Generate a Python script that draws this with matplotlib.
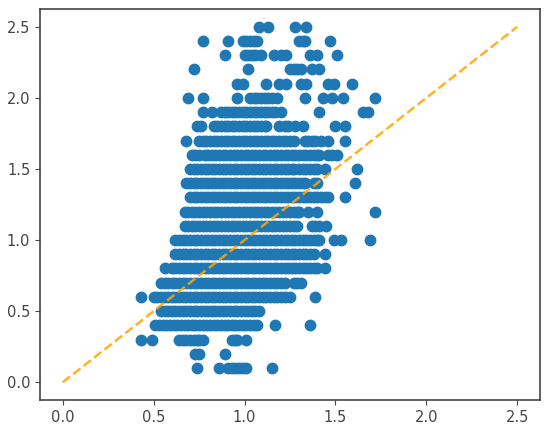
import matplotlib
matplotlib.use('Agg')
import matplotlib.pyplot as plt

# x values, one list for each y level
row_25 = [1.08, 1.13, 1.28, 1.34]
row_24 = [0.77, 0.91, 0.99, 1.01, 1.03, 1.05, 1.07, 1.30, 1.32, 1.33, 1.47]
row_23 = [0.89, 1.00, 1.02, 1.04, 1.06, 1.09, 1.16, 1.20, 1.23, 1.36, 1.40, 1.51]
row_22 = [0.72, 1.02, 1.25, 1.27, 1.29, 1.31, 1.37, 1.41]
row_21 = [0.96, 0.99, 1.12, 1.19, 1.23, 1.31, 1.34, 1.46, 1.49, 1.59]
row_20 = [0.69, 0.77, 0.96, 1.03, 1.05, 1.07, 1.09, 1.11, 1.13, 1.15, 1.18, 1.33, 1.43, 1.48, 1.54, 1.72]
row_19 = [0.77, 0.82, 0.87, 0.89, 0.91, 0.93, 0.95, 0.97, 0.99, 1.01, 1.03, 1.05, 1.07, 1.09,
          1.11, 1.13, 1.15, 1.17, 1.20, 1.41, 1.65, 1.68]
row_18 = [0.74, 0.76, 0.83, 0.85, 0.87, 0.89, 0.91, 0.93, 0.95, 0.97, 0.99, 1.01, 1.03, 1.05,
          1.07, 1.09, 1.11, 1.12, 1.19, 1.22, 1.24, 1.28, 1.32, 1.50, 1.55]
row_17 = [0.68, 0.75, 0.77, 0.79, 0.81, 0.83, 0.85, 0.87, 0.89, 0.91, 0.93, 0.95, 0.97, 0.99,
          1.01, 1.03, 1.05, 1.07, 1.09, 1.11, 1.13, 1.15, 1.17, 1.19, 1.21, 1.23, 1.25, 1.27,
          1.33, 1.35, 1.37, 1.39, 1.42, 1.46, 1.55]
row_16 = [0.71, 0.73, 0.75, 0.78, 0.80, 0.82, 0.84, 0.86, 0.88, 0.90, 0.92, 0.94, 0.96, 0.98,
          1.00, 1.02, 1.04, 1.06, 1.08, 1.10, 1.12, 1.14, 1.16, 1.18, 1.20, 1.22, 1.24, 1.26,
          1.28, 1.30, 1.32, 1.34, 1.36, 1.38, 1.40, 1.41, 1.46, 1.48, 1.51]
row_15 = [0.70, 0.72, 0.74, 0.76, 0.78, 0.80, 0.82, 0.84, 0.86, 0.88, 0.90, 0.92, 0.94, 0.96,
          0.98, 1.00, 1.02, 1.04, 1.06, 1.08, 1.10, 1.12, 1.14, 1.16, 1.18, 1.20, 1.22, 1.24,
          1.26, 1.27, 1.30, 1.32, 1.34, 1.36, 1.38, 1.40, 1.44, 1.62]
row_14 = [0.68, 0.70, 0.72, 0.74, 0.76, 0.78, 0.80, 0.82, 0.84, 0.86, 0.88, 0.90, 0.92, 0.94,
          0.96, 0.98, 1.00, 1.02, 1.04, 1.06, 1.08, 1.10, 1.12, 1.14, 1.16, 1.18, 1.20, 1.22,
          1.24, 1.26, 1.28, 1.30, 1.32, 1.33, 1.38, 1.40, 1.61]
row_13 = [0.70, 0.72, 0.74, 0.76, 0.78, 0.80, 0.82, 0.84, 0.86, 0.88, 0.90, 0.92, 0.94, 0.96,
          0.98, 1.00, 1.02, 1.04, 1.06, 1.08, 1.10, 1.12, 1.14, 1.16, 1.18, 1.20, 1.22, 1.24,
          1.26, 1.28, 1.30, 1.32, 1.34, 1.36, 1.38, 1.40, 1.42, 1.44, 1.46, 1.55]
row_12 = [0.67, 0.69, 0.71, 0.73, 0.75, 0.77, 0.79, 0.81, 0.83, 0.85, 0.87, 0.89, 0.91, 0.93,
          0.95, 0.97, 0.99, 1.01, 1.03, 1.05, 1.07, 1.09, 1.11, 1.13, 1.15, 1.17, 1.19, 1.21,
          1.23, 1.25, 1.27, 1.29, 1.30, 1.35, 1.40, 1.72]
row_11 = [0.67, 0.69, 0.71, 0.73, 0.75, 0.77, 0.79, 0.81, 0.83, 0.85, 0.87, 0.89, 0.91, 0.93,
          0.95, 0.97, 0.99, 1.01, 1.03, 1.05, 1.07, 1.09, 1.11, 1.13, 1.15, 1.17, 1.19, 1.21,
          1.23, 1.25, 1.27, 1.29, 1.37, 1.39, 1.41, 1.45]
row_10 = [0.62, 0.64, 0.66, 0.68, 0.70, 0.72, 0.74, 0.76, 0.78, 0.80, 0.82, 0.84, 0.86, 0.88,
          0.90, 0.92, 0.94, 0.96, 0.98, 1.00, 1.02, 1.04, 1.06, 1.08, 1.10, 1.12, 1.14, 1.16,
          1.18, 1.20, 1.22, 1.24, 1.26, 1.28, 1.30, 1.32, 1.34, 1.36, 1.38, 1.40, 1.41,
          1.49, 1.53, 1.69]
row_09 = [0.62, 0.64, 0.66, 0.68, 0.70, 0.72, 0.74, 0.76, 0.78, 0.80, 0.82, 0.84, 0.86, 0.88,
          0.90, 0.92, 0.94, 0.96, 0.98, 1.00, 1.02, 1.04, 1.06, 1.08, 1.10, 1.12, 1.14, 1.16,
          1.18, 1.20, 1.22, 1.24, 1.26, 1.28, 1.30, 1.32, 1.34, 1.36, 1.38, 1.44]
row_08 = [0.56, 0.60, 0.62, 0.64, 0.66, 0.68, 0.70, 0.72, 0.74, 0.76, 0.78, 0.80, 0.82, 0.84,
          0.86, 0.88, 0.90, 0.92, 0.94, 0.96, 0.98, 1.00, 1.02, 1.04, 1.06, 1.08, 1.10, 1.12,
          1.14, 1.16, 1.18, 1.20, 1.22, 1.24, 1.26, 1.28, 1.30, 1.32, 1.34, 1.36, 1.38, 1.40, 1.44]
row_07 = [0.54, 0.56, 0.58, 0.60, 0.62, 0.64, 0.66, 0.68, 0.70, 0.72, 0.74, 0.76, 0.78, 0.80,
          0.82, 0.84, 0.86, 0.88, 0.90, 0.92, 0.94, 0.96, 0.98, 1.00, 1.02, 1.04, 1.06, 1.08,
          1.10, 1.12, 1.14, 1.16, 1.18, 1.20, 1.22, 1.27, 1.29, 1.31]
row_06 = [0.43, 0.50, 0.52, 0.54, 0.56, 0.58, 0.60, 0.62, 0.64, 0.66, 0.68, 0.70, 0.72, 0.74,
          0.76, 0.78, 0.80, 0.82, 0.84, 0.86, 0.88, 0.90, 0.92, 0.94, 0.96, 0.98, 1.00, 1.02,
          1.04, 1.06, 1.08, 1.10, 1.12, 1.14, 1.16, 1.18, 1.20, 1.22, 1.25, 1.39]
row_05 = [0.54, 0.56, 0.58, 0.60, 0.62, 0.64, 0.66, 0.68, 0.70, 0.72, 0.74, 0.76, 0.78, 0.80,
          0.82, 0.84, 0.86, 0.88, 0.90, 0.92, 0.94, 0.96, 0.98, 1.00, 1.02, 1.04, 1.06, 1.08]
row_04 = [0.51, 0.53, 0.55, 0.57, 0.59, 0.61, 0.63, 0.65, 0.67, 0.69, 0.71, 0.73, 0.75, 0.77,
          0.79, 0.81, 0.83, 0.85, 0.87, 0.89, 0.91, 0.93, 0.95, 0.97, 0.99, 1.01, 1.03, 1.05,
          1.07, 1.17, 1.36]
row_03 = [0.43, 0.49, 0.64, 0.66, 0.68, 0.70, 0.72, 0.74, 0.75, 0.77, 0.93, 0.95, 0.96, 1.01]
row_02 = [0.73, 0.75, 0.89]
row_01 = [0.74, 0.86, 0.91, 0.93, 0.95, 0.97, 0.99, 1.01, 1.15]

y_levels = [2.5, 2.4, 2.3, 2.2, 2.1, 2.0, 1.9, 1.8, 1.7, 1.6, 1.5, 1.4, 1.3,
            1.2, 1.1, 1.0, 0.9, 0.8, 0.7, 0.6, 0.5, 0.4, 0.3, 0.2, 0.1]
rows = [row_25, row_24, row_23, row_22, row_21, row_20, row_19, row_18, row_17,
        row_16, row_15, row_14, row_13, row_12, row_11, row_10, row_09, row_08,
        row_07, row_06, row_05, row_04, row_03, row_02, row_01]

line_x = [0, 2.5]
line_y = [0, 2.5]

x = []
y = []
for level, row in zip(y_levels, rows):
    x += row
    y += [level] * len(row)

fig, ax = plt.subplots(figsize=(5.5, 4.37), dpi=100)
fig.subplots_adjust(left=40 / 550, right=540 / 550, bottom=1 - 400 / 437, top=1 - 9 / 437)

ax.scatter(x, y, s=56, color='#1f77b4')
ax.plot(line_x, line_y, '--', color='orange', alpha=0.85, linewidth=1.8)
ax.set_xticks([0.0, 0.5, 1.0, 1.5, 2.0, 2.5])
ax.set_yticks([0.0, 0.5, 1.0, 1.5, 2.0, 2.5])
ax.tick_params(labelsize=10.5, colors='#444444')
for s in ax.spines.values():
    s.set_color('#444444')
    s.set_linewidth(1.2)

plt.savefig('out.png', dpi=100)
